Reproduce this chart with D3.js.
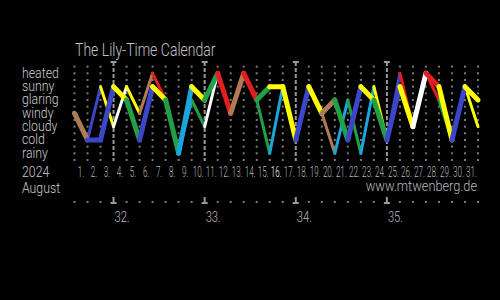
<!DOCTYPE html>
<html>
<head>
<meta charset="utf-8">
<script src="https://cdn.jsdelivr.net/npm/d3@7"></script>
<style>
  body { margin: 0; background: #000; }
  text { font-family: Roboto, "Liberation Sans", sans-serif; font-weight: 300; }
</style>
</head>
<body>
<svg id="cal" width="500" height="300"></svg>
<script>
var levels = ['heated', 'sunny', 'glaring', 'windy', 'cloudy', 'cold', 'rainy'];
var levelColors = ['#e41e20', '#ffff00', '#22a048', '#b07a55', '#ffffff', '#3c46c8', '#1ca4dc'];
var days = d3.range(1, 32);
var today = 16;
var weekStarts = [4, 11, 18, 25];
var weekLabels = ['32.', '33.', '34.', '35.'];

// level index at each day boundary (0 = start of Aug 1 ... 31 = end of Aug 31)
var upper = [3, 5, 5, 1, 2, 5, 1, 2, 6, 1, 2, 0, 3, 0, 2, 1, 1, 5, 1, 3, 2, 5, 1, 2, 5, 1, 4, 0, 1, 5, 1, 2];
var lower = [3, 5, 1, 4, 1, 3, 0, 2, 6, 2, 4, 0, 3, 0, 2, 6, 1, 5, 1, 3, 6, 2, 6, 1, 5, 0, 4, 0, 2, 5, 1, 4];

var svg = d3.select('#cal');

var x = d3.scaleLinear().domain([0, 31]).range([74.5, 478]),
    y = d3.scaleLinear().domain([0, 6]).range([73.3, 153.3]),
    color = d3.scaleOrdinal().domain(d3.range(7)).range(levelColors);

// narrow text: placed by transform, squeezed horizontally
function label(px, py, str, size, fill, squeeze, anchor, stretch) {
  return svg.append('text')
    .attr('transform', `translate(${px}, ${py}) scale(${squeeze}, ${stretch || 1})`)
    .attr('text-anchor', anchor || 'start')
    .attr('fill', fill)
    .style('font-size', size + 'px')
    .text(str);
}

label(75, 56, 'The Lily-Time Calendar', 18, '#c4c4c4', 0.78);

// dotted grid
var cols = d3.range(0, 32).filter(k => weekStarts.indexOf(k + 1) < 0);
var rows = d3.range(-0.5, 6.6, 0.5);
var grid = svg.append('g').attr('fill', '#7a7a7a');
cols.forEach(k => {
  grid.selectAll(null)
    .data(rows)
    .enter().append('rect')
      .attr('x', x(k) - 1)
      .attr('y', d => y(d) - 1)
      .attr('width', 2)
      .attr('height', 2);
  grid.append('rect')
    .attr('x', x(k) - 1).attr('y', 201)
    .attr('width', 2).attr('height', 2);
});

// week lines
weekStarts.forEach((ws, i) => {
  var wx = x(ws - 1);
  svg.append('line')
    .attr('x1', wx).attr('x2', wx)
    .attr('y1', 62).attr('y2', 161)
    .attr('stroke', '#999')
    .attr('stroke-width', 2)
    .attr('stroke-dasharray', '4,2');
  svg.append('line')
    .attr('x1', wx - 3).attr('x2', wx + 3)
    .attr('y1', 62).attr('y2', 62)
    .attr('stroke', '#999').attr('stroke-width', 2);
  svg.append('line')
    .attr('x1', wx).attr('x2', wx)
    .attr('y1', 197).attr('y2', 203)
    .attr('stroke', '#999').attr('stroke-width', 2);
  svg.append('line')
    .attr('x1', wx - 3).attr('x2', wx + 3)
    .attr('y1', 203).attr('y2', 203)
    .attr('stroke', '#999').attr('stroke-width', 2);
  label(wx + 1, 222, weekLabels[i], 14, '#bbb', 0.8);
});

// level labels
levels.forEach((d, i) => label(22, y(i) + 4.5, d, 14, '#ccc', 0.88));
label(22, 177, '2024', 15, '#ccc', 0.82);
label(22, 193, 'August', 15, '#ccc', 0.82);

// day labels
days.forEach(d => label(x(d - 0.5), 177, d + '.', 13, d === today ? '#fff' : '#bbb', 0.62, 'middle', 1.08));

label(477, 191, 'www.mtwenberg.de', 15, '#bbb', 0.85, 'end');

// weather lines, each day segment coloured by the level it starts from
function drawSeries(vals, width) {
  svg.append('g')
    .selectAll('line')
    .data(d3.range(vals.length - 1))
    .enter().append('line')
      .attr('x1', i => x(i))
      .attr('y1', i => y(vals[i]))
      .attr('x2', i => x(i + 1))
      .attr('y2', i => y(vals[i + 1]))
      .attr('stroke', i => color(vals[i]))
      .attr('stroke-width', width)
      .attr('stroke-linecap', 'round');
}
drawSeries(lower, 3);
drawSeries(upper, 5);
</script>
</body>
</html>
